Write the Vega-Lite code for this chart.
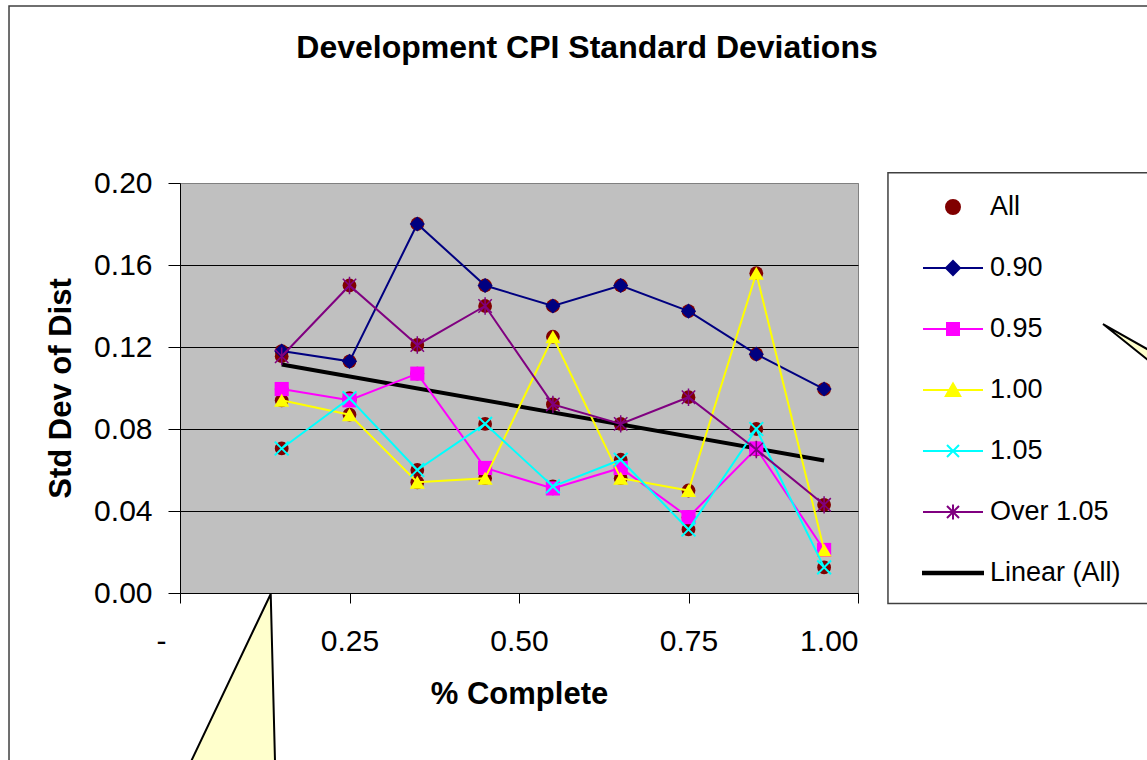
{
  "$schema": "https://vega.github.io/schema/vega-lite/v6.json",
  "width": 678,
  "height": 410,
  "autosize": {"type": "none"},
  "padding": {"left": 180, "top": 183, "right": 289, "bottom": 167},
  "background": "#FFFFFF",
  "title": {
    "text": "Development CPI Standard Deviations",
    "font": "Liberation Sans",
    "fontSize": 32,
    "fontWeight": "bold",
    "color": "#000000",
    "anchor": "middle",
    "baseline": "alphabetic",
    "dx": 68,
    "offset": -85
  },
  "datasets": {
    "cpi": [
      {"pct": 0.15, "series": "0.90", "sd": 0.118},
      {"pct": 0.25, "series": "0.90", "sd": 0.113},
      {"pct": 0.35, "series": "0.90", "sd": 0.180},
      {"pct": 0.45, "series": "0.90", "sd": 0.150},
      {"pct": 0.55, "series": "0.90", "sd": 0.140},
      {"pct": 0.65, "series": "0.90", "sd": 0.150},
      {"pct": 0.75, "series": "0.90", "sd": 0.1375},
      {"pct": 0.85, "series": "0.90", "sd": 0.1165},
      {"pct": 0.95, "series": "0.90", "sd": 0.0995},
      {"pct": 0.15, "series": "0.95", "sd": 0.0995},
      {"pct": 0.25, "series": "0.95", "sd": 0.094},
      {"pct": 0.35, "series": "0.95", "sd": 0.107},
      {"pct": 0.45, "series": "0.95", "sd": 0.061},
      {"pct": 0.55, "series": "0.95", "sd": 0.051},
      {"pct": 0.65, "series": "0.95", "sd": 0.061},
      {"pct": 0.75, "series": "0.95", "sd": 0.037},
      {"pct": 0.85, "series": "0.95", "sd": 0.0705},
      {"pct": 0.95, "series": "0.95", "sd": 0.021},
      {"pct": 0.15, "series": "1.00", "sd": 0.094},
      {"pct": 0.25, "series": "1.00", "sd": 0.087},
      {"pct": 0.35, "series": "1.00", "sd": 0.054},
      {"pct": 0.45, "series": "1.00", "sd": 0.056},
      {"pct": 0.55, "series": "1.00", "sd": 0.125},
      {"pct": 0.65, "series": "1.00", "sd": 0.056},
      {"pct": 0.75, "series": "1.00", "sd": 0.050},
      {"pct": 0.85, "series": "1.00", "sd": 0.156},
      {"pct": 0.95, "series": "1.00", "sd": 0.021},
      {"pct": 0.15, "series": "1.05", "sd": 0.0705},
      {"pct": 0.25, "series": "1.05", "sd": 0.095},
      {"pct": 0.35, "series": "1.05", "sd": 0.060},
      {"pct": 0.45, "series": "1.05", "sd": 0.0825},
      {"pct": 0.55, "series": "1.05", "sd": 0.052},
      {"pct": 0.65, "series": "1.05", "sd": 0.065},
      {"pct": 0.75, "series": "1.05", "sd": 0.031},
      {"pct": 0.85, "series": "1.05", "sd": 0.080},
      {"pct": 0.95, "series": "1.05", "sd": 0.0125},
      {"pct": 0.15, "series": "Over 1.05", "sd": 0.1155},
      {"pct": 0.25, "series": "Over 1.05", "sd": 0.150},
      {"pct": 0.35, "series": "Over 1.05", "sd": 0.121},
      {"pct": 0.45, "series": "Over 1.05", "sd": 0.140},
      {"pct": 0.55, "series": "Over 1.05", "sd": 0.092},
      {"pct": 0.65, "series": "Over 1.05", "sd": 0.0825},
      {"pct": 0.75, "series": "Over 1.05", "sd": 0.0955},
      {"pct": 0.85, "series": "Over 1.05", "sd": 0.070},
      {"pct": 0.95, "series": "Over 1.05", "sd": 0.043}
    ],
    "callouts": [
      {"shape": "lower", "pct": -0.0108, "sd": -0.101, "sd2": -0.101},
      {"shape": "lower", "pct": 0.1338, "sd": -0.0005, "sd2": -0.101},
      {"shape": "lower", "pct": 0.1416, "sd": -0.101, "sd2": -0.101},
      {"shape": "side", "pct": 1.3614, "sd": 0.1312, "sd2": 0.1312},
      {"shape": "side", "pct": 1.6, "sd": 0.0864, "sd2": 0.0681}
    ],
    "frames": [
      {"frame": "chart area", "pct": -0.2522, "pct2": 2.5, "sd": 0.2863, "sd2": -1},
      {"frame": "legend", "pct": 1.0442, "pct2": 2.5, "sd": 0.2050, "sd2": -0.0051}
    ]
  },
  "data": {"name": "cpi"},
  "encoding": {
    "x": {
      "field": "pct",
      "type": "quantitative",
      "title": "% Complete",
      "scale": {"domain": [0, 1], "nice": false, "zero": false},
      "axis": {
        "values": [0, 0.25, 0.5, 0.75, 1],
        "format": ".2f",
        "labelExpr": "datum.value == 0 ? '-' : datum.label",
        "labelOffset": {"condition": {"test": "datum.value == 0", "value": -24}, "value": 0},
        "tickSize": 10,
        "labelPadding": 23,
        "titlePadding": 23,
        "grid": false
      }
    },
    "y": {
      "field": "sd",
      "type": "quantitative",
      "title": "Std Dev of Dist",
      "scale": {"domain": [0, 0.2], "nice": false},
      "axis": {
        "values": [0, 0.04, 0.08, 0.12, 0.16, 0.2],
        "format": ".2f",
        "tickSize": 12,
        "labelPadding": 16,
        "titlePadding": 16,
        "grid": true,
        "gridColor": {"condition": {"test": "datum.value >= 0.2", "value": "#808080"}, "value": "#000000"}
      }
    }
  },
  "layer": [
    {
      "data": {"name": "frames"},
      "mark": {"type": "rect", "filled": false, "stroke": "#404040", "strokeWidth": 1.5, "clip": false},
      "encoding": {
        "x2": {"field": "pct2"},
        "y2": {"field": "sd2"}
      }
    },
    {
      "data": {"name": "callouts"},
      "mark": {"type": "area", "fill": "#FFFFCC", "stroke": "#000000", "strokeWidth": 2, "clip": false},
      "encoding": {
        "y2": {"field": "sd2"},
        "detail": {"field": "shape", "type": "nominal"}
      }
    },
    {
      "mark": {"type": "point", "shape": "circle", "filled": true, "size": 190, "color": "#800000", "opacity": 1}
    },
    {
      "transform": [{"regression": "sd", "on": "pct", "extent": [0.15, 0.95]}],
      "mark": {"type": "line", "color": "#000000", "strokeWidth": 4},
      "encoding": {}
    },
    {
      "transform": [{"filter": "datum.series === '0.90'"}],
      "layer": [
        {"mark": {"type": "line", "color": "#000080", "strokeWidth": 2}, "encoding": {}},
        {"mark": {"type": "point", "shape": "diamond", "filled": true, "size": 230, "color": "#000080", "opacity": 1}}
      ]
    },
    {
      "transform": [{"filter": "datum.series === '0.95'"}],
      "layer": [
        {"mark": {"type": "line", "color": "#FF00FF", "strokeWidth": 2}, "encoding": {}},
        {"mark": {"type": "point", "shape": "square", "filled": true, "size": 200, "color": "#FF00FF", "opacity": 1}}
      ]
    },
    {
      "transform": [{"filter": "datum.series === '1.00'"}],
      "layer": [
        {"mark": {"type": "line", "color": "#FFFF00", "strokeWidth": 2}, "encoding": {}},
        {"mark": {"type": "point", "shape": "triangle-up", "filled": true, "size": 230, "color": "#FFFF00", "opacity": 1}}
      ]
    },
    {
      "transform": [{"filter": "datum.series === '1.05'"}],
      "layer": [
        {"mark": {"type": "line", "color": "#00FFFF", "strokeWidth": 2}, "encoding": {}},
        {"mark": {"type": "point", "shape": "M-1,-1L1,1M-1,1L1,-1", "filled": false, "size": 190, "strokeWidth": 2, "color": "#00FFFF", "opacity": 1}}
      ]
    },
    {
      "transform": [{"filter": "datum.series === 'Over 1.05'"}],
      "layer": [
        {"mark": {"type": "line", "color": "#800080", "strokeWidth": 2}, "encoding": {}},
        {"mark": {"type": "point", "shape": "M-1,-1L1,1M-1,1L1,-1M0,-1.3V1.3", "filled": false, "size": 180, "strokeWidth": 1.5, "color": "#800080", "opacity": 1}}
      ]
    },
    {
      "mark": {"type": "point", "filled": true, "size": 0},
      "encoding": {
        "shape": {
          "field": "series",
          "type": "nominal",
          "scale": {
            "domain": ["All", "0.90", "0.95", "1.00", "1.05", "Over 1.05", "Linear (All)"],
            "range": [
              "M-0.233,0A0.233,0.233,0,1,1,0.233,0A0.233,0.233,0,1,1,-0.233,0Z",
              "M-1,0H1M-0.233,0L0,-0.233L0.233,0L0,0.233Z",
              "M-1,0H1M-0.2,-0.2H0.2V0.2H-0.2Z",
              "M-1,0H1M0,-0.22L0.24,0.2H-0.24Z",
              "M-1,0H1M-0.2,-0.2L0.2,0.2M-0.2,0.2L0.2,-0.2",
              "M-1,0H1M-0.2,-0.2L0.2,0.2M-0.2,0.2L0.2,-0.2M0,-0.25V0.25",
              "M-1,-0.04H1V0.04H-1Z"
            ]
          },
          "legend": {
            "title": null,
            "orient": "none",
            "legendX": 708,
            "legendY": -10,
            "padding": 3,
            "rowPadding": 17,
            "symbolSize": 3600,
            "symbolStrokeWidth": 2,
            "symbolOpacity": 1,
            "symbolOffset": 31,
            "labelOffset": 6,
            "labelFont": "Liberation Sans",
            "labelFontSize": 27,
            "labelColor": "#000000",
            "labelLimit": 400
          }
        },
        "fill": {
          "field": "series",
          "type": "nominal",
          "scale": {
            "domain": ["All", "0.90", "0.95", "1.00", "1.05", "Over 1.05", "Linear (All)"],
            "range": ["#800000", "#000080", "#FF00FF", "#FFFF00", "#00FFFF", "#800080", "#000000"]
          },
          "legend": {
            "title": null,
            "orient": "none",
            "legendX": 708,
            "legendY": -10,
            "padding": 3,
            "rowPadding": 17,
            "symbolSize": 3600,
            "symbolStrokeWidth": 2,
            "symbolOpacity": 1,
            "symbolOffset": 31,
            "labelOffset": 6,
            "labelFont": "Liberation Sans",
            "labelFontSize": 27,
            "labelColor": "#000000",
            "labelLimit": 400
          }
        },
        "stroke": {
          "field": "series",
          "type": "nominal",
          "scale": {
            "domain": ["All", "0.90", "0.95", "1.00", "1.05", "Over 1.05", "Linear (All)"],
            "range": ["#800000", "#000080", "#FF00FF", "#FFFF00", "#00FFFF", "#800080", "#000000"]
          },
          "legend": {
            "title": null,
            "orient": "none",
            "legendX": 708,
            "legendY": -10,
            "padding": 3,
            "rowPadding": 17,
            "symbolSize": 3600,
            "symbolStrokeWidth": 2,
            "symbolOpacity": 1,
            "symbolOffset": 31,
            "labelOffset": 6,
            "labelFont": "Liberation Sans",
            "labelFontSize": 27,
            "labelColor": "#000000",
            "labelLimit": 400
          }
        }
      }
    }
  ],
  "config": {
    "font": "Liberation Sans",
    "view": {"fill": "#C0C0C0", "stroke": "#808080", "strokeWidth": 1},
    "axis": {
      "domainColor": "#000000",
      "domainWidth": 1,
      "tickColor": "#000000",
      "tickWidth": 1,
      "gridOpacity": 1,
      "gridWidth": 1,
      "labelFont": "Liberation Sans",
      "labelFontSize": 30,
      "labelColor": "#000000",
      "titleFont": "Liberation Sans",
      "titleFontSize": 31,
      "titleFontWeight": "bold",
      "titleColor": "#000000"
    }
  }
}
